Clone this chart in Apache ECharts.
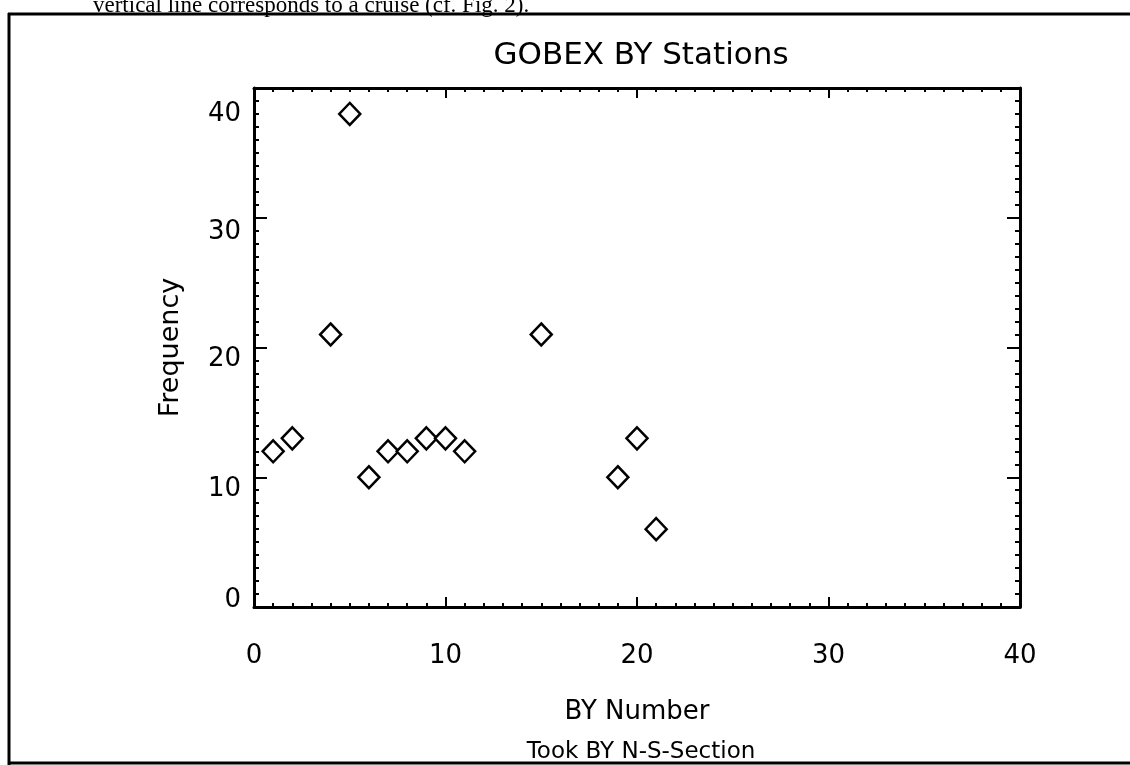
<!DOCTYPE html>
<html>
<head>
<meta charset="utf-8">
<script src="https://cdn.jsdelivr.net/npm/echarts@6/dist/echarts.min.js"></script>
<style>
html,body{margin:0;padding:0;background:#fff;}
#c{width:1130px;height:765px;}
</style>
</head>
<body>
<div id="c"></div>
<script>
// Data
const byNumber = [1, 2, 4, 5, 6, 7, 8, 9, 10, 11, 15, 19, 20, 21];
const frequency = [12, 13, 21, 38, 10, 12, 12, 13, 13, 12, 21, 10, 13, 6];
const xTicks = [0, 10, 20, 30, 40];
const yTicks = [0, 10, 20, 30, 40];

const FONT = '"DejaVu Sans", sans-serif';
const points = byNumber.map((x, i) => [x, frequency[i]]);

const chart = echarts.init(document.getElementById('c'), null, {renderer: 'canvas'});

function axisBase(show) {
  return {
    type: 'value',
    min: xTicks[0],
    max: xTicks[xTicks.length - 1],
    interval: xTicks[1] - xTicks[0],
    axisLine: {show: true, onZero: false, lineStyle: {color: '#000', width: 3}},
    axisTick: {show: true, inside: true, length: 10, lineStyle: {color: '#000', width: 2}},
    minorTick: {show: true, splitNumber: 10, length: 4, lineStyle: {color: '#000', width: 2}},
    splitLine: {show: false},
    minorSplitLine: {show: false},
    axisLabel: {show: show, color: '#000', fontFamily: FONT, fontSize: 26, margin: 36}
  };
}

const base = {color: '#000', fontFamily: FONT, fontSize: 26};
const labelRich = {
  t: Object.assign({padding: [52, 0, 0, 0]}, base),
  u: Object.assign({padding: [28, 0, 0, 0]}, base),
  s: Object.assign({padding: [24, 0, 0, 0]}, base),
  z: Object.assign({padding: [0, 0, 14, 0]}, base)
};
function yLabel(v) {
  if (v === 0) return '{z|' + v + '}';
  if (v === 40) return '{t|' + v + '}';
  if (v === 30) return '{u|' + v + '}';
  return '{s|' + v + '}';
}

const option = {
  backgroundColor: '#fff',
  animation: false,
  title: [
    {
      text: 'GOBEX BY Stations',
      left: 636, top: 35, textAlign: 'center',
      textStyle: {color: '#000', fontFamily: FONT, fontSize: 31, fontWeight: 'normal'}
    },
    {
      text: 'Took BY N-S-Section',
      left: 636, top: 736, textAlign: 'center',
      textStyle: {color: '#000', fontFamily: FONT, fontSize: 23, fontWeight: 'normal'}
    }
  ],
  grid: {left: 254, right: 110, top: 88, bottom: 158, containLabel: false},
  xAxis: [
    Object.assign(axisBase(true), {
      position: 'bottom',
      name: 'BY Number',
      nameLocation: 'middle',
      nameGap: 92,
      nameTextStyle: {color: '#000', fontFamily: FONT, fontSize: 26}
    }),
    Object.assign(axisBase(false), {position: 'top'})
  ],
  yAxis: [
    Object.assign(axisBase(true), {
      position: 'left',
      min: yTicks[0], max: yTicks[yTicks.length - 1], interval: yTicks[1] - yTicks[0],
      axisTick: {show: true, inside: true, length: 13, lineStyle: {color: '#000', width: 2}},
      minorTick: {show: true, splitNumber: 10, length: 5, lineStyle: {color: '#000', width: 2}},
      axisLabel: {
        show: true, color: '#000', fontFamily: FONT, fontSize: 26, margin: 13,
        formatter: yLabel,
        rich: labelRich
      },
      name: 'Frequency',
      nameLocation: 'middle',
      nameGap: 70,
      nameRotate: 90,
      nameTextStyle: {color: '#000', fontFamily: FONT, fontSize: 27}
    }),
    Object.assign(axisBase(false), {
      position: 'right',
      min: yTicks[0], max: yTicks[yTicks.length - 1], interval: yTicks[1] - yTicks[0],
      axisTick: {show: true, inside: true, length: 13, lineStyle: {color: '#000', width: 2}},
      minorTick: {show: true, splitNumber: 10, length: 5, lineStyle: {color: '#000', width: 2}}
    })
  ],
  series: [{
    type: 'scatter',
    xAxisIndex: 0,
    yAxisIndex: 0,
    data: points,
    symbol: 'diamond',
    symbolSize: [21, 22],
    itemStyle: {color: '#fff', borderColor: '#000', borderWidth: 2.5, opacity: 1}
  }],
  graphic: [
    {
      type: 'text', left: 93, top: -6, silent: true,
      style: {text: 'vertical line corresponds to a cruise (cf. Fig. 2).', fill: '#000',
              font: '23px "Liberation Serif", serif'}
    },
    {type: 'line', silent: true, shape: {x1: 8, y1: 14, x2: 1130, y2: 14}, style: {stroke: '#000', lineWidth: 3}},
    {type: 'line', silent: true, shape: {x1: 9, y1: 13, x2: 9, y2: 765}, style: {stroke: '#000', lineWidth: 3}},
    {type: 'line', silent: true, shape: {x1: 8, y1: 763, x2: 1130, y2: 763}, style: {stroke: '#000', lineWidth: 3}}
  ]
};
chart.setOption(option);
</script>
</body>
</html>
